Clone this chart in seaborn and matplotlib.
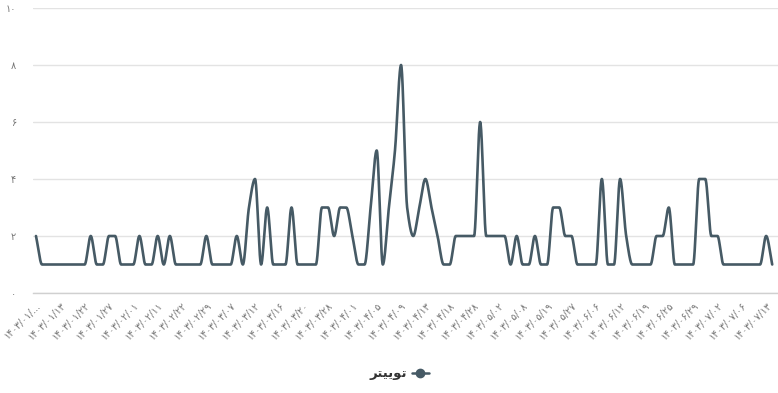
import numpy as np
import pandas as pd
import matplotlib
matplotlib.use("Agg")
import matplotlib.pyplot as plt
from matplotlib.lines import Line2D
import seaborn as sns

# ---------------- data ----------------
values = [
    2, 1, 1, 1, 1, 1, 1, 1, 1, 2,
    1, 1, 2, 2, 1, 1, 1, 2, 1, 1,
    2, 1, 2, 1, 1, 1, 1, 1, 2, 1,
    1, 1, 1, 2, 1, 3, 4, 1, 3, 1,
    1, 1, 3, 1, 1, 1, 1, 3, 3, 2,
    3, 3, 2, 1, 1, 3, 5, 1, 3, 5,
    8, 3, 2, 3, 4, 3, 2, 1, 1, 2,
    2, 2, 2, 6, 2, 2, 2, 2, 1, 2,
    1, 1, 2, 1, 1, 3, 3, 2, 2, 1,
    1, 1, 1, 4, 1, 1, 4, 2, 1, 1,
    1, 1, 2, 2, 3, 1, 1, 1, 1, 4,
    4, 2, 2, 1, 1, 1, 1, 1, 1, 1,
    2, 1,
]

tick_labels = [
    "۱۴۰۳/۰۱/...", "۱۴۰۳/۰۱/۱۳", "۱۴۰۳/۰۱/۲۲", "۱۴۰۳/۰۱/۲۷", "۱۴۰۳/۰۲/۰۱",
    "۱۴۰۳/۰۲/۱۱", "۱۴۰۳/۰۲/۲۲", "۱۴۰۳/۰۲/۲۹", "۱۴۰۳/۰۳/۰۷", "۱۴۰۳/۰۳/۱۲",
    "۱۴۰۳/۰۳/۱۶", "۱۴۰۳/۰۳/۲۰", "۱۴۰۳/۰۳/۲۸", "۱۴۰۳/۰۴/۰۱", "۱۴۰۳/۰۴/۰۵",
    "۱۴۰۳/۰۴/۰۹", "۱۴۰۳/۰۴/۱۳", "۱۴۰۳/۰۴/۱۸", "۱۴۰۳/۰۴/۲۸", "۱۴۰۳/۰۵/۰۲",
    "۱۴۰۳/۰۵/۰۸", "۱۴۰۳/۰۵/۱۹", "۱۴۰۳/۰۵/۲۷", "۱۴۰۳/۰۶/۰۶", "۱۴۰۳/۰۶/۱۲",
    "۱۴۰۳/۰۶/۱۹", "۱۴۰۳/۰۶/۲۵", "۱۴۰۳/۰۶/۲۹", "۱۴۰۳/۰۷/۰۲", "۱۴۰۳/۰۷/۰۶",
    "۱۴۰۳/۰۷/۱۳",
]
tick_step = 4

y_ticks = [0, 2, 4, 6, 8, 10]
y_tick_labels = ["۰", "۲", "۴", "۶", "۸", "۱۰"]

# "توییتر" written in Arabic presentation forms (visual order) so it joins
series_name = "\uFEAE\uFE98\uFEF4\uFEF3\uFEEE\uFE97"

line_color = "#465a65"


# monotone cubic (PCHIP) smoothing for drawing the curve
def pchip_curve(x, y, per=24):
    x = np.asarray(x, float)
    y = np.asarray(y, float)
    n = len(x)
    h = np.diff(x)
    delta = np.diff(y) / h
    d = np.zeros(n)
    for k in range(1, n - 1):
        if delta[k - 1] * delta[k] <= 0:
            d[k] = 0.0
        else:
            w1 = 2 * h[k] + h[k - 1]
            w2 = h[k] + 2 * h[k - 1]
            d[k] = (w1 + w2) / (w1 / delta[k - 1] + w2 / delta[k])
    d[0] = delta[0]
    d[-1] = delta[-1]
    xs_all, ys_all = [], []
    for k in range(n - 1):
        t = np.linspace(0, 1, per, endpoint=(k == n - 2))
        h00 = 2 * t**3 - 3 * t**2 + 1
        h10 = t**3 - 2 * t**2 + t
        h01 = -2 * t**3 + 3 * t**2
        h11 = t**3 - t**2
        yy = h00 * y[k] + h10 * h[k] * d[k] + h01 * y[k + 1] + h11 * h[k] * d[k + 1]
        xs_all.append(x[k] + t * h[k])
        ys_all.append(yy)
    return np.concatenate(xs_all), np.concatenate(ys_all)


sns.set_theme(style="white")
plt.rcParams["font.family"] = ["DejaVu Sans"]

fig = plt.figure(figsize=(7.78, 3.93), dpi=100)
ax = fig.add_axes([33 / 778, 1 - 293 / 393, 745 / 778, 285 / 393])

idx = np.arange(len(values))
xs, ys = pchip_curve(idx, values)
df = pd.DataFrame({"x": xs, "y": ys})
sns.lineplot(data=df, x="x", y="y", ax=ax, color=line_color, linewidth=1.9,
             estimator=None, sort=False)

ax.set_xlim(-0.49, 121.95)
ax.set_ylim(0, 10)

ax.set_yticks(y_ticks)
ax.set_yticklabels(y_tick_labels, fontsize=7, color="#777777")
ax.set_xticks(idx[::tick_step][:len(tick_labels)])
ax.set_xticklabels(tick_labels, rotation=45, ha="right", rotation_mode="anchor",
                   fontsize=7, color="#777777")
ax.tick_params(axis="both", length=0)
ax.tick_params(axis="y", pad=12)
ax.tick_params(axis="x", pad=5)

ax.set_xlabel("")
ax.set_ylabel("")
ax.yaxis.grid(True, color="#e3e3e3", linewidth=1)
ax.xaxis.grid(False)
for s in ["top", "right", "left"]:
    ax.spines[s].set_visible(False)
ax.spines["bottom"].set_color("#d0d0d0")
ax.spines["bottom"].set_linewidth(1)
ax.set_axisbelow(True)

handle = Line2D([0], [0], color=line_color, linewidth=1.8, marker="o",
                markersize=6, markerfacecolor=line_color, markeredgecolor=line_color)
fig.legend([handle], [series_name], loc="center",
           bbox_to_anchor=(399 / 778, 1 - 374 / 393), frameon=False,
           markerfirst=False, handlelength=1.3, handletextpad=0.4,
           prop={"weight": "bold", "size": 9.5}, labelcolor="#333333")

fig.savefig("out.png", dpi=100)
